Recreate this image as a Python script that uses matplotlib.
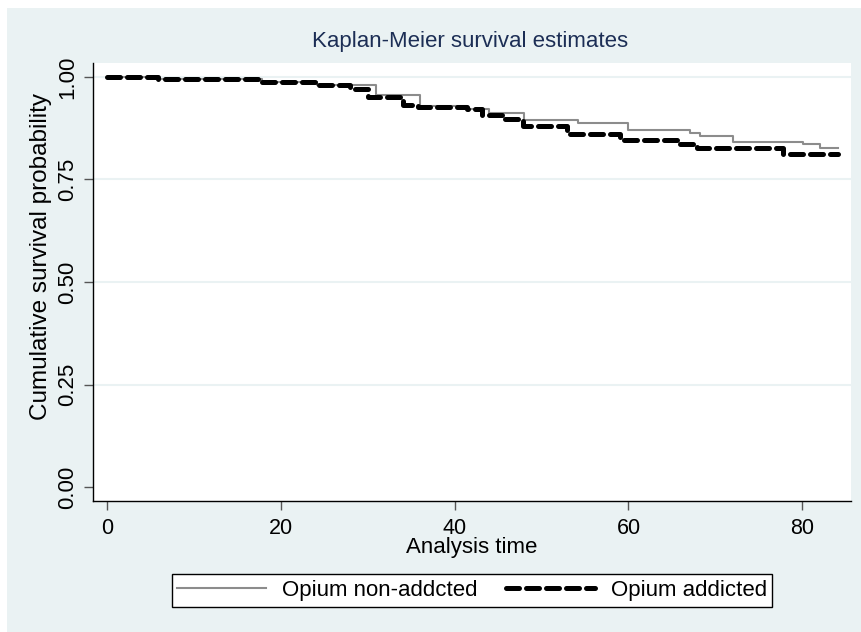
import matplotlib
matplotlib.use("Agg")
import matplotlib.pyplot as plt
from matplotlib.patches import Rectangle

plt.rcParams['font.family'] = ['Liberation Sans', 'DejaVu Sans']

# Kaplan-Meier step data (time, survival)
t_non = [0, 5.9, 17.8, 24.2, 31, 36, 41.4, 44, 48, 54.2, 60, 67.1, 68.2, 72, 80.1, 82, 84.1]
s_non = [1.0, 0.995, 0.988, 0.981, 0.957, 0.930, 0.922, 0.911, 0.896, 0.888, 0.871, 0.864, 0.855, 0.842, 0.837, 0.827, 0.827]

t_add = [0, 5.9, 17.8, 24.2, 28, 30, 34, 35.8, 41.4, 43.1, 45.8, 47.9, 52.9, 59, 65.9, 67.9, 77.8, 84.1]
s_add = [1.0, 0.995, 0.988, 0.981, 0.971, 0.952, 0.932, 0.926, 0.921, 0.907, 0.898, 0.880, 0.860, 0.846, 0.837, 0.826, 0.811, 0.811]

xticks = [0, 20, 40, 60, 80]
yticks = [0, 0.25, 0.5, 0.75, 1.0]
ylabels = ["0.00", "0.25", "0.50", "0.75", "1.00"]

bg = '#EAF2F3'
fig = plt.figure(figsize=(8.61, 6.32), dpi=100, facecolor='white')
fig.patches.append(Rectangle((7 / 861, 0), 1, 1 - 8 / 632, transform=fig.transFigure,
                             facecolor=bg, edgecolor='none', zorder=-10))

ax = fig.add_axes([93 / 861, 1 - 501 / 632, (851 - 93) / 861, (501 - 63) / 632])
ax.set_facecolor('white')

for y in [0.25, 0.5, 0.75, 1.0]:
    ax.axhline(y, color=bg, lw=1.5, zorder=0)

ax.plot(t_non, s_non, drawstyle='steps-post', color='#8C8C8C', lw=1.5,
        label='Opium non-addcted', zorder=2)
ax.plot(t_add, s_add, drawstyle='steps-post', color='black', lw=3.6,
        dashes=(2.6, 1.4), dash_capstyle='round', label='Opium addicted', zorder=3)

ax.set_xlim(-1.61, 85.6)
ax.set_ylim(-0.034, 1.034)
ax.set_xticks(xticks)
ax.set_yticks(yticks)
ax.set_yticklabels(ylabels, rotation=90, va='center')
ax.tick_params(axis='both', direction='out', length=6.5, width=1, color='#555555',
               labelcolor='black')
ax.tick_params(axis='x', pad=6, labelsize=15.5)
ax.tick_params(axis='y', pad=4, labelsize=16)

ax.spines['top'].set_visible(False)
ax.spines['right'].set_visible(False)
for side in ['left', 'bottom']:
    ax.spines[side].set_color('black')
    ax.spines[side].set_linewidth(1)

ax.set_xlabel('Analysis time', fontsize=16)
ax.xaxis.set_label_coords(0.5, (501 - 548) / 438)
ax.xaxis.label.set_va('center')
ax.set_ylabel('Cumulative survival probability', fontsize=17.5)
ax.yaxis.set_label_coords((41 - 93) / 758, (501 - 256) / 438)
ax.yaxis.label.set_va('center')

fig.text(470 / 861, 1 - 42 / 632, 'Kaplan-Meier survival estimates', ha='center',
         va='center', fontsize=16, color='#1C2E55')

leg = fig.legend(loc='center', bbox_to_anchor=(472 / 861, 1 - 590.5 / 632), ncol=2,
                 fontsize=16, frameon=True, fancybox=False, edgecolor='black',
                 facecolor='white', framealpha=1, handlelength=4.0, columnspacing=1.3,
                 borderpad=0.25, handletextpad=0.7, borderaxespad=0)
leg.get_frame().set_linewidth(1)

fig.savefig('out.png', dpi=100, facecolor=fig.get_facecolor())
